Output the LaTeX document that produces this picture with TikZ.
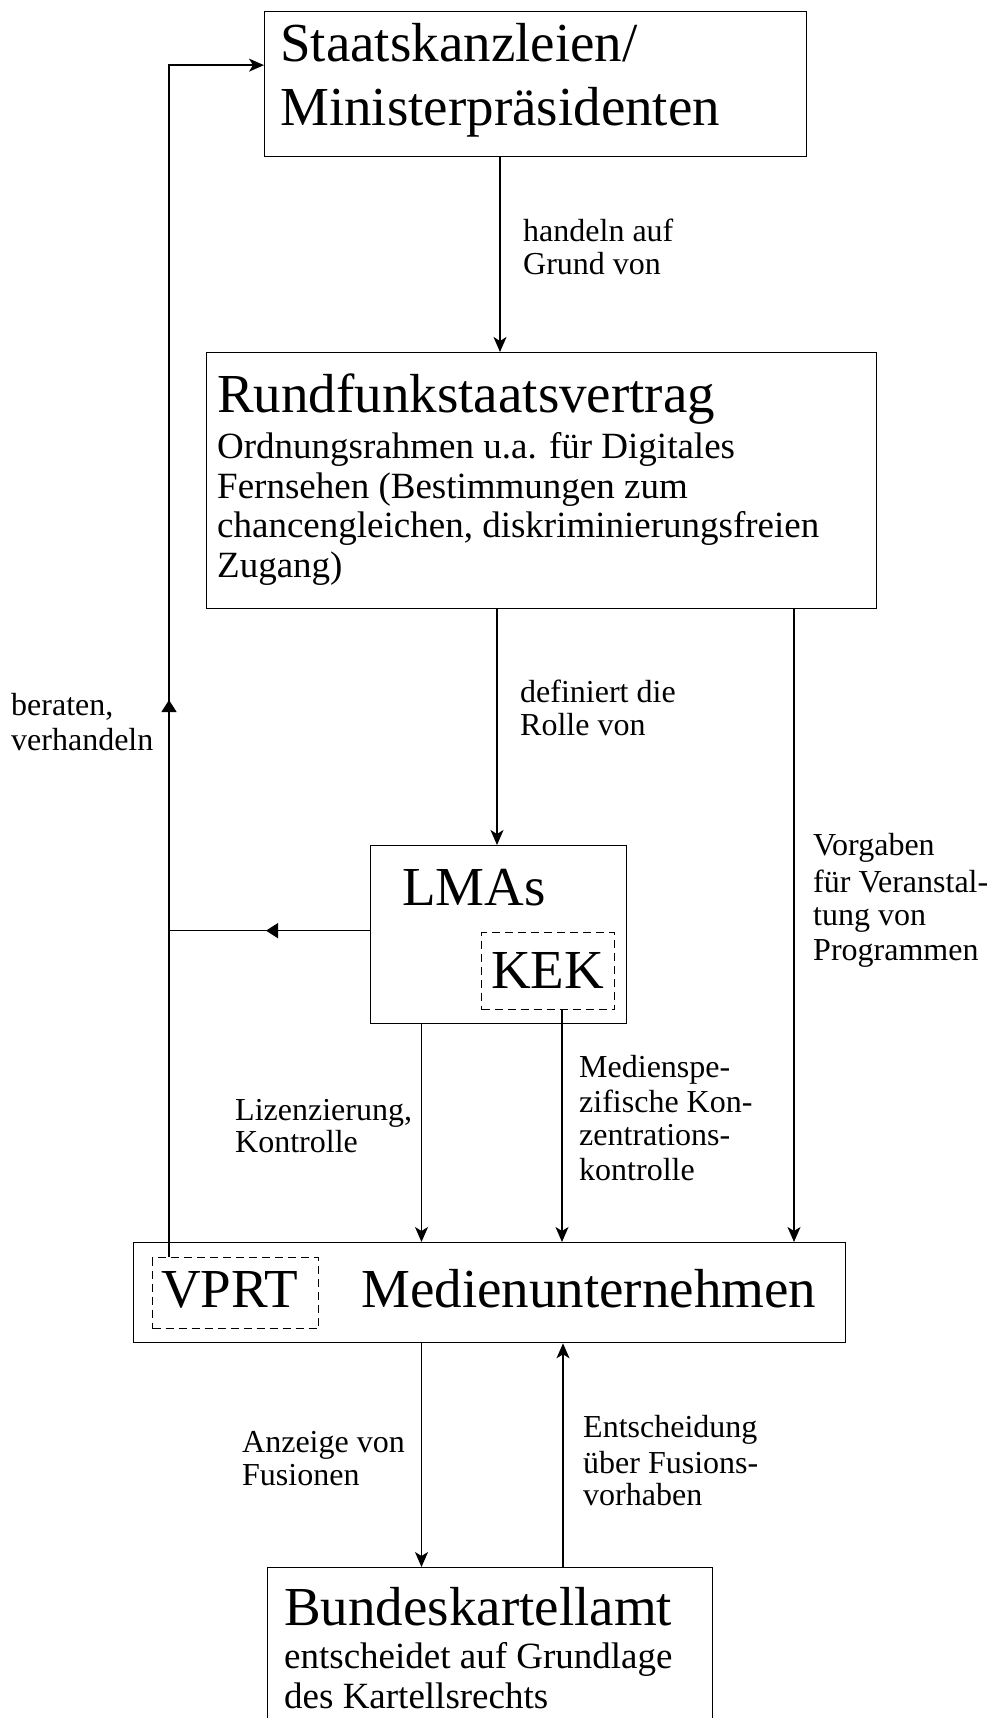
\documentclass[tikz,border=0pt]{standalone}
\usepackage{fontspec}
\setmainfont{Liberation Serif}
\usetikzlibrary{arrows.meta,decorations.markings}
\newcommand\BigT{\fontsize{55}{60}\selectfont}
\newcommand\SubT{\fontsize{37}{40}\selectfont}
\newcommand\LabT{\fontsize{32}{34}\selectfont}
\begin{document}
\begin{tikzpicture}[x=1pt,y=-1pt,
  box/.style={draw, line width=1.3pt, rectangle, inner sep=0pt, anchor=north west},
  dbox/.style={box, dash pattern=on 8pt off 5pt},
  txt/.style={anchor=base west, inner sep=0pt},
  conn/.style={line width=1.3pt, -{Stealth[length=15pt,width=13pt,inset=4pt]}},
  plain/.style={line width=1.3pt},
  midarrow/.style={postaction={decorate}, decoration={markings,
     mark=at position #1 with {\arrow{Triangle[length=12pt,width=15pt]}}}}
]
\useasboundingbox (0,0) rectangle (998,1718);
\fill[white] (0,0) rectangle (998,1718);
\clip (0,0) rectangle (998,1718);

% boxes
\node[box, minimum width=542pt, minimum height=145pt] (sk) at (264,11) {};
\node[box, minimum width=670pt, minimum height=256pt] (rsv) at (206,352) {};
\node[box, minimum width=256pt, minimum height=178pt] (lma) at (370,845) {};
\node[dbox, minimum width=133pt, minimum height=77pt] (kek) at (481,932) {};
\node[box, minimum width=712pt, minimum height=100pt] (med) at (133,1242) {};
\node[dbox, minimum width=166pt, minimum height=71pt] (vprt) at (152,1257) {};
\node[box, minimum width=445pt, minimum height=190pt] (bka) at (267,1567) {};

% texts in boxes
\node[txt] (t1a) at (280,62) {\BigT Staatskanzleien/};
\node[txt] (t1b) at (280,125) {\BigT Ministerpräsidenten};
\node[txt] (t2) at (217,412) {\BigT Rundfunkstaatsvertrag};
\node[txt] (t2a) at (217,458) {\SubT Ordnungsrahmen u.a. für Digitales};
\node[txt] (t2b) at (217,498) {\SubT Fernsehen (Bestimmungen zum};
\node[txt] (t2c) at (217,537) {\SubT chancengleichen, diskriminierungsfreien};
\node[txt] (t2d) at (217,577) {\SubT Zugang)};
\node[txt] (t3) at (402,905) {\BigT LMAs};
\node[txt] (t4) at (491,988) {\BigT KEK};
\node[txt] (t5) at (161,1307) {\BigT VPRT};
\node[txt] (t6) at (361,1307) {\BigT Medienunternehmen};
\node[txt] (t7) at (284,1625) {\BigT Bundeskartellamt};
\node[txt] (t7a) at (284,1668) {\SubT entscheidet auf Grundlage};
\node[txt] (t7b) at (284,1708) {\SubT des Kartellsrechts};

% labels
\node[txt] (l1a) at (523,241) {\LabT handeln auf};
\node[txt] (l1b) at (523,274) {\LabT Grund von};
\node[txt] (l2a) at (520,702) {\LabT definiert die};
\node[txt] (l2b) at (520,735) {\LabT Rolle von};
\node[txt] (l3a) at (11,715) {\LabT beraten,};
\node[txt] (l3b) at (11,750) {\LabT verhandeln};
\node[txt] (l4a) at (813,855) {\LabT Vorgaben};
\node[txt] (l4b) at (813,892) {\LabT für Veranstal-};
\node[txt] (l4c) at (813,925) {\LabT tung von};
\node[txt] (l4d) at (813,960) {\LabT Programmen};
\node[txt] (l5a) at (235,1120) {\LabT Lizenzierung,};
\node[txt] (l5b) at (235,1152) {\LabT Kontrolle};
\node[txt] (l6a) at (579,1077) {\LabT Medienspe-};
\node[txt] (l6b) at (579,1112) {\LabT zifische Kon-};
\node[txt] (l6c) at (579,1145) {\LabT zentrations-};
\node[txt] (l6d) at (579,1180) {\LabT kontrolle};
\node[txt] (l7a) at (242,1452) {\LabT Anzeige von};
\node[txt] (l7b) at (242,1485) {\LabT Fusionen};
\node[txt] (l8a) at (583,1437) {\LabT Entscheidung};
\node[txt] (l8b) at (583,1473) {\LabT über Fusions-};
\node[txt] (l8c) at (583,1505) {\LabT vorhaben};

% connectors
\coordinate (a1) at ([xshift=236pt]sk.south west);
\draw[conn] (a1) -- (a1 |- rsv.north);
\coordinate (a2) at ([xshift=127pt]lma.north west);
\draw[conn] (a2 |- rsv.south) -- (a2);
\coordinate (a3) at ([xshift=588pt]rsv.south west);
\draw[conn] (a3) -- (a3 |- med.north);
\coordinate (a4) at ([xshift=51.5pt]lma.south west);
\draw[conn] (a4) -- (a4 |- med.north);
\coordinate (a5) at ([xshift=81pt]kek.south west);
\draw[conn] (a5) -- (a5 |- med.north);
\coordinate (a6) at ([xshift=288.5pt]med.south west);
\draw[conn] (a6) -- (a6 |- bka.north);
\coordinate (a7) at ([xshift=296pt]bka.north west);
\draw[conn] (a7) -- (a7 |- med.south);
\coordinate (a8) at ([xshift=17pt]vprt.north west);
\coordinate (a9) at ([yshift=4pt]lma.west);
\draw[plain, midarrow=104pt] (a9) -- (a9 -| a8);
\coordinate (a10) at ([yshift=19pt]sk.west);
\draw[conn, midarrow=557pt] (a8) |- (a10);
\end{tikzpicture}
\end{document}
